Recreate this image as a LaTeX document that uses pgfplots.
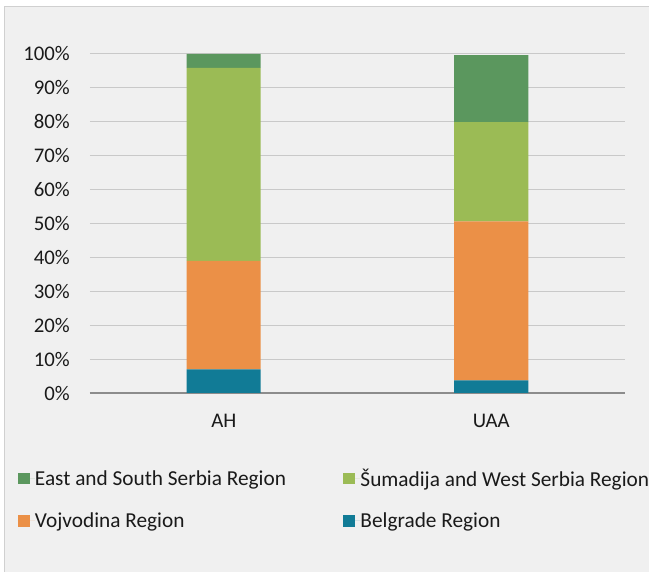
\documentclass[border=0pt]{standalone}
\usepackage{fontspec}
\setmainfont{Carlito}
\usepackage{pgfplots}
\pgfplotsset{compat=1.18}
\definecolor{cBel}{HTML}{117B96}
\definecolor{cVoj}{HTML}{EB9047}
\definecolor{cSum}{HTML}{9BBB55}
\definecolor{cEast}{HTML}{5B975E}
\definecolor{bgc}{HTML}{F0F0F0}
\definecolor{framec}{HTML}{D0D0D0}
\definecolor{gridc}{HTML}{C9C9C9}
\definecolor{axl}{HTML}{8C8C8C}
\definecolor{txt}{HTML}{1A1A1A}
\newcommand{\bigf}{\fontsize{20.8}{25}\selectfont}
\newcommand{\legf}{\fontsize{21.3}{25}\selectfont}
\begin{document}
\begin{tikzpicture}
\useasboundingbox (0pt,0pt) rectangle (649pt,572pt);
\fill[white] (0pt,0pt) rectangle (649pt,572pt);
\fill[bgc] (4pt,0pt) rectangle (649pt,566pt);
\draw[framec, line width=1.2pt] (4.6pt,0pt) -- (4.6pt,565.4pt) -- (649pt,565.4pt);
\begin{axis}[
  at={(90pt,179pt)}, anchor=south west,
  scale only axis, width=535pt, height=339pt,
  ybar stacked, bar width=74pt,
  xmin=-0.5, xmax=1.5, ymin=0, ymax=100,
  xtick={0,1}, xticklabels={AH,UAA},
  ytick={0,10,...,100},
  yticklabels={0\%,10\%,20\%,30\%,40\%,50\%,60\%,70\%,80\%,90\%,100\%},
  major tick length=0pt,
  ymajorgrids, grid style={gridc, line width=1pt},
  axis x line*=bottom, axis y line*=left,
  x axis line style={axl, line width=1.3pt, -},
  y axis line style={draw=none},
  yticklabel style={anchor=east, inner sep=0pt, xshift=-20pt, text=txt, font=\bigf},
  xticklabel style={anchor=north, inner sep=0pt, yshift=-21.3pt, text=txt, font=\bigf},
  legend columns=2, reverse legend,
  legend style={at={(axis description cs:-0.1346,-0.3127)}, anchor=west,
    draw=none, fill=none, inner sep=0pt, outer sep=0pt,
    row sep=24.5pt, column sep=0pt, font=\legf, text=txt,
    nodes={inner sep=0pt, outer sep=0pt}},
  legend image code/.code={\fill[#1] (0pt,-5.85pt) rectangle (11.7pt,5.85pt); \path (0pt,0pt) -- (17pt,0pt);},
]
\addplot[fill=cBel, draw=none] coordinates {(0,7.0) (1,3.7)};
\addlegendentry{\makebox[308.5pt][l]{Belgrade Region}}
\addplot[fill=cVoj, draw=none] coordinates {(0,32.0) (1,46.9)};
\addlegendentry{\makebox[308.5pt][l]{Vojvodina Region}}
\addplot[fill=cSum, draw=none] coordinates {(0,56.9) (1,29.3)};
\addlegendentry{\makebox[308.5pt][l]{Šumadija and West Serbia Region}}
\addplot[fill=cEast, draw=none] coordinates {(0,4.1) (1,19.8)};
\addlegendentry{\makebox[308.5pt][l]{East and South Serbia Region}}
\end{axis}
\end{tikzpicture}
\end{document}
